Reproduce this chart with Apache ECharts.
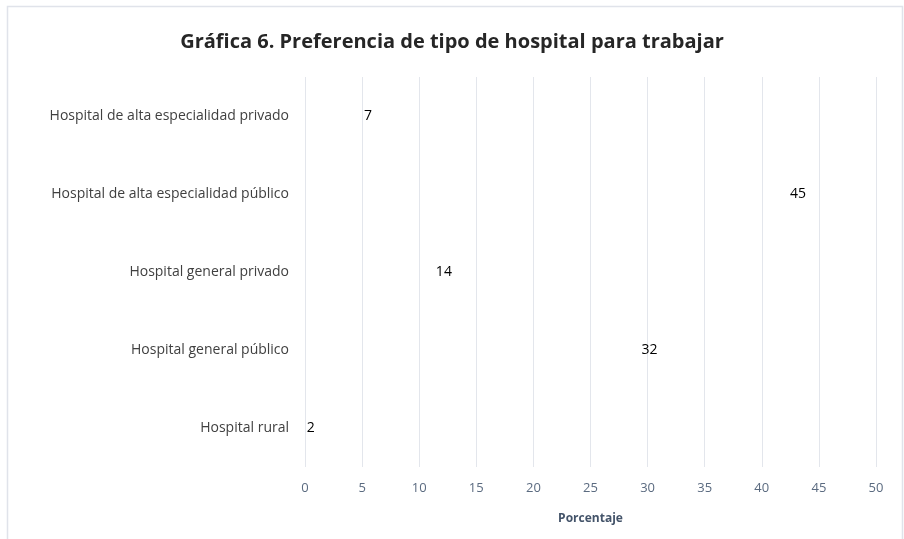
<!DOCTYPE html>
<html>
<head>
<meta charset="utf-8">
<script src="https://cdn.jsdelivr.net/npm/echarts@6/dist/echarts.min.js"></script>
<style>html,body{margin:0;padding:0;background:#fff;}#c{width:904px;height:539px;}</style>
</head>
<body>
<div id="c"></div>
<script>
var categories = ["Hospital rural", "Hospital general público", "Hospital general privado", "Hospital de alta especialidad público", "Hospital de alta especialidad privado"];
var values = [2, 32, 14, 45, 7];
var titleText = "Gráfica 6. Preferencia de tipo de hospital para trabajar";
var axisName = "Porcentaje";

var chart = echarts.init(document.getElementById('c'));
chart.setOption({
  backgroundColor: '#ffffff',
  animation: false,
  title: {
    text: titleText,
    left: 'center',
    top: 27,
    textStyle: { fontFamily: 'Open Sans', fontSize: 20, fontWeight: 'bold', color: '#262626' }
  },
  graphic: [{
    type: 'rect',
    shape: { x: 7.5, y: 6.5, width: 895, height: 560 },
    style: { fill: 'none', stroke: '#e0e3ea', lineWidth: 1.5 },
    silent: true
  }],
  grid: { left: 305, right: 28, top: 77, bottom: 72 },
  xAxis: {
    type: 'value',
    min: 0, max: 50, interval: 5,
    name: axisName,
    nameLocation: 'middle',
    nameGap: 46,
    nameTextStyle: { fontFamily: 'Open Sans', fontSize: 12, fontWeight: 'bold', color: '#44546a' },
    axisLine: { show: false },
    axisTick: { show: false },
    axisLabel: { fontFamily: 'Open Sans', fontSize: 13, color: '#5b6b80', margin: 15 },
    splitLine: { show: true, lineStyle: { color: '#e3e6ec', width: 1 } }
  },
  yAxis: {
    type: 'category',
    data: categories,
    axisLine: { show: false },
    axisTick: { show: false },
    axisLabel: { fontFamily: 'Open Sans', fontSize: 14, color: '#404040', margin: 16 }
  },
  series: [{
    type: 'bar',
    data: values,
    barWidth: '60%',
    itemStyle: { color: 'rgba(0,0,0,0)' },
    label: {
      show: true,
      position: 'insideRight',
      distance: 13,
      fontFamily: 'Open Sans',
      fontSize: 14,
      color: '#000000'
    }
  }]
});
</script>
</body>
</html>
